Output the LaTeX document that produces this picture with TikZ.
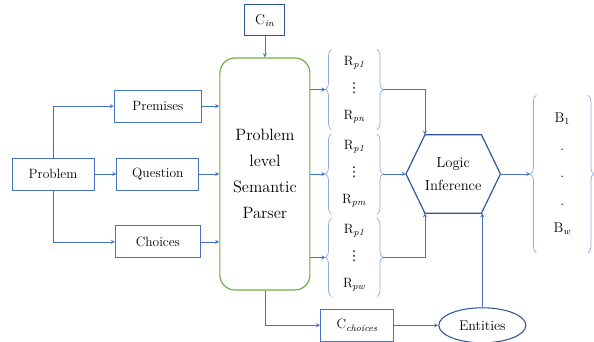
\documentclass[tikz,border=0pt]{standalone}
\usepackage{tikz}
\usepackage{xcolor}
\usepackage{fontspec}
\usetikzlibrary{shapes.geometric}
\usetikzlibrary{positioning}
\usetikzlibrary{decorations.pathreplacing}
\newfontfamily\dotsfont{DejaVu Sans}
\definecolor{boxblue}{HTML}{4472C4}
\definecolor{darkblue}{HTML}{2F5597}
\definecolor{braceblue}{HTML}{8FAADC}
\definecolor{parsergreen}{HTML}{70AD47}
\newcommand{\rdots}{{\dotsfont ⋮}}
\tikzstyle{process} = [rectangle, minimum width=2.46cm, minimum height=0.96cm, text centered, draw=boxblue, line width=0.75pt, font=\fontsize{11.5}{13}\selectfont]
\tikzstyle{input} = [rectangle, minimum width=1.2cm, minimum height=0.93cm, text centered, draw=darkblue, line width=1pt, font=\fontsize{12}{13}\selectfont]
\tikzstyle{parser} = [rectangle, rounded corners=0.45cm, minimum width=2.7cm, minimum height=6.96cm, text centered, draw=parsergreen, line width=1pt, align=center, font=\fontsize{14}{22}\selectfont]
\tikzstyle{rules} = [rectangle, minimum width=1.35cm, minimum height=2.4cm, align=center, font=\fontsize{11.5}{23}\selectfont]
\tikzstyle{entity} = [ellipse, minimum width=2.61cm, minimum height=1.05cm, text centered, draw=darkblue, line width=0.9pt, font=\fontsize{12}{13}\selectfont]
\tikzstyle{arrow} = [line width=0.6pt, draw=boxblue, ->, >=stealth]
\tikzstyle{bracket} = [draw=braceblue, line width=0.6pt, decorate, decoration={brace, amplitude=0.18cm}]
\tikzstyle{hexline} = [draw=darkblue, line width=1pt]

\begin{document}
\begin{tikzpicture}
    \useasboundingbox (0,0) rectangle (17.82,-10.26);
    % inputs
    \node (problem) [process] at (1.59,-5.22) {Problem};
    \node (question) [process, right=0.66cm of problem] {Question};
    \node (premises) [process, above=1.05cm of question, minimum width=2.61cm] {Premises};
    \node (choices) [process, below=1.05cm of question, minimum width=2.55cm] {Choices};
    \node (parser) [parser, right=0.6cm of question] {Problem\\level\\Semantic\\Parser};
    \node (cin) [input, above=0.63cm of parser] {C\textsubscript{\textit{in}}};

    % rule groups
    \node (g2) [rules, right=0.63cm of parser] {R\textsubscript{\textit{p1}}\\\rdots\\R\textsubscript{\textit{pm}}};
    \node (g1) [rules, above=0.12cm of g2] {R\textsubscript{\textit{p1}}\\\rdots\\R\textsubscript{\textit{pn}}};
    \node (g3) [rules, below=0.12cm of g2, minimum height=2.34cm] {R\textsubscript{\textit{p1}}\\\rdots\\R\textsubscript{\textit{pw}}};

    % inference
    \node (logic) [right=0.87cm of g2, minimum width=2.82cm, minimum height=2.34cm, align=center, font=\fontsize{12.5}{20}\selectfont] {Logic\\Inference};
    \draw [hexline] (logic.west) -- ([xshift=0.57cm]logic.north west) -- ([xshift=-0.57cm]logic.north east) -- (logic.east) -- ([xshift=-0.57cm]logic.south east) -- ([xshift=0.57cm]logic.south west) -- cycle;
    \node (gb) [rules, right=1.08cm of logic, minimum width=1.53cm, minimum height=4.71cm, font=\fontsize{12}{23.5}\selectfont] {B\textsubscript{1}\\.\\.\\.\\B\textsubscript{\textit{w}}};

    \node (cch) [process, below=0.36cm of g3, xshift=0.09cm, minimum width=2.19cm, line width=1pt] {C\textsubscript{\textit{choices}}};
    \node (ent) [entity, right=1.32cm of cch] {Entities};

    % braces
    \foreach \g in {g1,g2,g3,gb} {
        \draw [bracket] (\g.south west) -- (\g.north west);
        \draw [bracket] (\g.north east) -- (\g.south east);
    }

    \draw [arrow] (problem.north) |- (premises.west);
    \draw [arrow] (problem) -- (question);
    \draw [arrow] (problem.south) |- (choices.west);
    \draw [arrow] (premises.east) -- (premises.east -| parser.west);
    \draw [arrow] (question) -- (parser);
    \draw [arrow] (choices.east) -- (choices.east -| parser.west);
    \draw [arrow] (cin) -- (parser);
    \foreach \g in {g1,g2,g3} {
        \draw [arrow] (parser.east |- \g.west) -- ([xshift=-0.18cm]\g.west);
    }
    \draw [arrow] ([xshift=0.18cm]g1.east) -| ([xshift=0.57cm]logic.north west);
    \draw [arrow] ([xshift=0.18cm]g2.east) -- (logic.west);
    \draw [arrow] ([xshift=0.18cm]g3.east) -| ([xshift=0.57cm]logic.south west);
    \draw [arrow] (logic.east) -- ([xshift=-0.18cm]gb.west);
    \draw [arrow] (parser.south) |- (cch.west);
    \draw [arrow] (cch) -- (ent);
    \draw [arrow] (ent.north) -- (ent.north |- logic.south);
\end{tikzpicture}
\end{document}
